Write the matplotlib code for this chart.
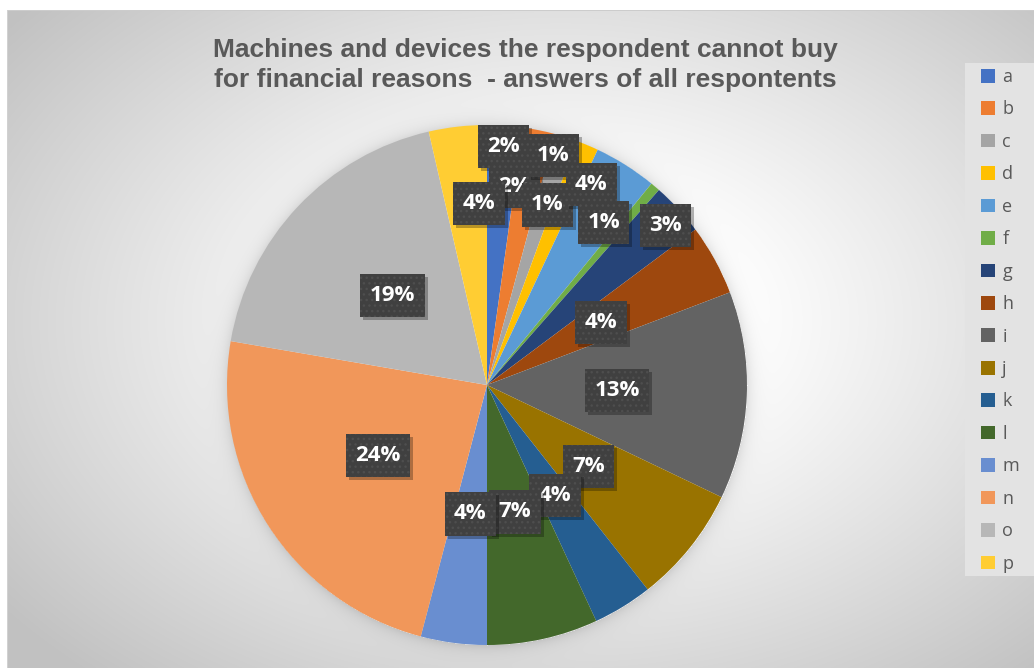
import numpy as np
import matplotlib.pyplot as plt
from matplotlib.patches import Patch, Rectangle
from matplotlib.path import Path

# shares of all answers, in percent, clockwise from 12 o'clock
categories = ['a', 'b', 'c', 'd', 'e', 'f', 'g', 'h',
              'i', 'j', 'k', 'l', 'm', 'n', 'o', 'p']
shares = [2.2, 2.0, 1.4, 1.4, 3.9, 0.6, 3.3, 4.4,
          12.9, 7.3, 3.7, 6.9, 4.1, 23.6, 18.7, 3.6]
colors = ['#4472C4', '#ED7D31', '#A5A5A5', '#FFC000', '#5B9BD5', '#70AD47',
          '#264478', '#9E480E', '#636363', '#997300', '#255E91', '#43682B',
          '#698ED0', '#F1975A', '#B7B7B7', '#FFCD33']
title = ('Machines and devices the respondent cannot buy\n'
         'for financial reasons  - answers of all respontents')

# label placement: fraction of radius and angular nudge (deg) per slice
label_r = [0.92, 0.77, 0.92, 0.73, 0.87, 0.77, 0.92, 0.5,
           0.5, 0.5, 0.5, 0.5, 0.5, 0.5, 0.5, 0.7]
label_turn = [0, -3.7, -1.5, -4.2, -4.8, -4.7, 0.9, 0,
              0, 0, 0, 0, 0, 0, 0, 4.0]


def label_box(x0, y0, width, height, mutation_size):
    # plain rectangle, a bit more padding top/bottom than left/right
    px, py = 0.42 * mutation_size, 0.5 * mutation_size
    x0, y0 = x0 - px, y0 - py
    x1, y1 = x0 + width + 2 * px, y0 + height + 2 * py
    return Path([(x0, y0), (x1, y0), (x1, y1), (x0, y1), (x0, y0)],
                closed=True)


W, H = 1034, 668
fig = plt.figure(figsize=(W / 100, H / 100), dpi=100)

# chart area background: radial grey gradient plus a soft shadow round the pie
cx, cy, R = 487, 385, 260
yy, xx = np.mgrid[0:H, 0:W]
d = np.hypot((xx - 560) / 560.0, (yy - 320) / 380.0)
bg = 1 - 0.24 * np.clip((d - 0.3) / 0.95, 0, 1) ** 1.1
dp = np.hypot(xx - cx, yy - cy) - R
bg = bg - 0.10 * np.exp(-np.clip(dp, 0, None) / 7.0) * (dp > 0)
bg[:10, :] = 1.0
bg[:, :7] = 1.0
bg[10, 7:] = 0.80
bg[10:, 7] = 0.82
bgax = fig.add_axes([0, 0, 1, 1])
bgax.imshow(np.dstack([bg] * 3), aspect='auto', interpolation='bilinear')
bgax.axis('off')

ax = fig.add_axes([(cx - R) / W, (H - cy - R) / H, 2 * R / W, 2 * R / H])
wedges, _ = ax.pie(shares, colors=colors, startangle=90, counterclock=False,
                   radius=1.0, wedgeprops=dict(linewidth=0))
ax.set_xlim(-1, 1)
ax.set_ylim(-1, 1)
ax.set_aspect('equal')
ax.axis('off')

total = sum(shares)
cum = np.cumsum([0] + shares)
labels = []
for i, v in enumerate(shares):
    mid = (cum[i] + v / 2) / total * 360 + label_turn[i]
    th = np.deg2rad(mid)
    x, y = label_r[i] * np.sin(th), label_r[i] * np.cos(th)
    t = ax.text(x, y, '%.0f%%' % (v / total * 100), ha='center', va='center',
                fontsize=16, fontweight='bold', color='white',
                family=['Open Sans', 'DejaVu Sans'], zorder=11 + 2 * i,
                bbox=dict(boxstyle=label_box, linewidth=0, facecolor='#404040',
                          edgecolor='#4e4e4e', hatch='...'))
    labels.append(t)

fig.text(525 / W, 1 - 65 / H, title, ha='center', va='center',
         fontsize=19, fontweight='bold', color='#595959',
         family='Liberation Sans', linespacing=1.33)

# legend panel
fig.patches.append(Rectangle((965 / W, 1 - 576 / H), (W - 965) / W,
                             (576 - 63) / H, transform=fig.transFigure,
                             facecolor='#e3e3e3', edgecolor='none', zorder=1))
handles = [Patch(facecolor=c, edgecolor='none') for c in colors]
leg = fig.legend(handles, categories, loc='upper left',
                 bbox_to_anchor=(981 / W, 1 - 68 / H), frameon=False,
                 labelcolor='#595959', handlelength=0.78,
                 handleheight=0.78, handletextpad=0.4, labelspacing=0.8,
                 borderpad=0, borderaxespad=0,
                 prop={'family': 'Open Sans', 'size': 13})

# drop shadows under the label boxes, placed once the boxes are laid out
fig.canvas.draw()
inv = ax.transData.inverted()
for i, t in enumerate(labels):
    ext = t.get_bbox_patch().get_window_extent()
    (x0, y0), (x1, y1) = inv.transform([[ext.x0 + 3, ext.y0 - 3],
                                        [ext.x1 + 3, ext.y1 - 3]])
    ax.add_patch(Rectangle((x0, y0), x1 - x0, y1 - y0, facecolor='black',
                           alpha=0.28, linewidth=0, zorder=10 + 2 * i))

fig.savefig('out.png', dpi=100)
